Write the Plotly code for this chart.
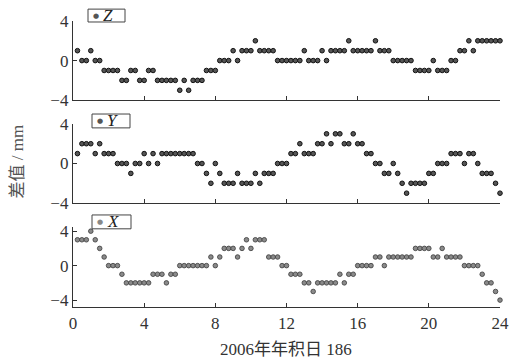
import plotly.graph_objects as go

# 15-minute samples over day-of-year 186, 2006 (hours)
hours = [i * 0.25 for i in range(97)]

z_mm = [None, 1, 0, 0, 1, 0, 0, -1, -1, -1,
        -1, -2, -2, -1, -1, -2, -2, -1, -1, -2,
        -2, -2, -2, -2, -3, -2, -3, -2, -2, -2,
        -1, -1, -1, 0, 0, 0, 1, 0, 1, 1,
        1, 2, 1, 1, 1, 1, 0, 0, 0, 0,
        0, 0, 1, 0, 0, 0, 1, 0, 1, 1,
        1, 1, 2, 1, 1, 1, 1, 1, 2, 1,
        1, 1, 0, 0, 0, 0, 0, -1, -1, -1,
        -1, 0, -1, -1, -1, 0, 0, 1, 1, 2,
        1, 2, 2, 2, 2, 2, 2]

y_mm = [None, 1, 2, 2, 2, 1, 2, 1, 1, 1,
        0, 0, 0, -1, 0, 0, 1, 0, 1, 0,
        1, 1, 1, 1, 1, 1, 1, 1, 0, 0,
        -1, -2, 0, -1, -2, -2, -2, -1, -2, -2,
        -2, -1, -2, -1, -1, -1, 0, 0, 0, 1,
        1, 2, 1, 1, 1, 2, 2, 3, 2, 3,
        3, 2, 2, 3, 2, 2, 1, 1, 0, 0,
        -1, -1, 0, -1, -2, -3, -2, -2, -2, -2,
        -1, -1, 0, 0, 0, 1, 1, 1, 0, 1,
        1, 0, -1, -1, -1, -2, -3]

x_mm = [None, 3, 3, 3, 4, 3, 2, 1, 0, 0,
        0, -1, -2, -2, -2, -2, -2, -2, -1, -1,
        -1, -2, -1, -1, 0, 0, 0, 0, 0, 0,
        0, 1, 0, 1, 2, 2, 2, 1, 2, 3,
        2, 3, 3, 3, 1, 1, 1, 0, 0, -1,
        -1, -1, -2, -2, -3, -2, -2, -2, -2, -2,
        -1, -2, -1, -1, 0, 0, 0, 0, 1, 1,
        0, 1, 1, 1, 1, 1, 1, 2, 2, 2,
        2, 1, 1, 2, 1, 1, 1, 1, 0, 0,
        0, 0, -1, -2, -2, -3, -4]

series_names = ["Z", "Y", "X"]
x_ticks = [0, 4, 8, 12, 16, 20, 24]
y_ticks = [-4, 0, 4]

W, H = 522, 363
L, R, T, B = 73, 22, 18, 56
PH = H - T - B


def py(p):
    return (H - B - p) / PH


def px(p):
    return (p - L) / (W - L - R)


panels = [  # (top px, bottom px, y range)
    (18, 98, [-4, 4]),
    (122, 202, [-4, 4]),
    (226, 307, [-4.8, 4.5]),
]

fig = go.Figure()
serif = "Liberation Serif, Times New Roman, serif"
axis_col = "#333"

data = [z_mm, y_mm, x_mm]
marker_styles = [
    dict(color="#555", line=dict(color="#111", width=1)),
    dict(color="#555", line=dict(color="#111", width=1)),
    dict(color="#8a8a8a", line=dict(color="#3a3a3a", width=0.8)),
]

for k, (vals, (top, bot, yr)) in enumerate(zip(data, panels)):
    n = "" if k == 0 else str(k + 1)
    fig.add_trace(go.Scatter(
        x=hours, y=vals, mode="markers", name=series_names[k],
        xaxis="x" + n, yaxis="y" + n, showlegend=False,
        marker=dict(symbol="circle", size=4.6, **marker_styles[k]),
        cliponaxis=False,
    ))
    fig.layout["xaxis" + n] = dict(
        domain=[0, 1], range=[0, 24], anchor="y" + n,
        tickvals=x_ticks, ticks="inside", ticklen=4, tickwidth=1,
        tickcolor=axis_col, showline=True, linecolor=axis_col, linewidth=1.3,
        showgrid=False, zeroline=False, showticklabels=(k == 2),
        tickfont=dict(family=serif, size=17, color="#333"),
    )
    fig.layout["yaxis" + n] = dict(
        domain=[py(bot), py(top)], range=yr, anchor="x" + n,
        tickvals=y_ticks, ticktext=["\u22124", "0", "4"], ticks="inside",
        ticklen=4, tickwidth=1, tickcolor=axis_col, showline=True,
        linecolor=axis_col, linewidth=1.3, showgrid=False, zeroline=False,
        tickfont=dict(family=serif, size=17, color="#333"),
    )

# legend boxes (one per panel)
boxes = [  # left, right, top, bottom px; marker x, letter x
    (88, 125, 6, 19, 96, 108),
    (92, 130, 112, 126, 100, 112),
    (92, 131, 214, 228, 100, 113),
]
for k, (x0, x1, y0, y1, mx, lx) in enumerate(boxes):
    fig.add_shape(type="rect", xref="paper", yref="paper",
                  x0=px(x0), x1=px(x1), y0=py(y1), y1=py(y0),
                  line=dict(color="#444", width=1), fillcolor="white")
    yc = py((y0 + y1) / 2)
    fig.add_annotation(xref="paper", yref="paper", x=px(mx), y=yc,
                       text="\u25CF", showarrow=False,
                       font=dict(family="DejaVu Sans", size=7,
                                 color="#555" if k < 2 else "#888"),
                       xanchor="center", yanchor="middle")
    fig.add_annotation(xref="paper", yref="paper", x=px(lx), y=yc,
                       text="<i>" + series_names[k] + "</i>", showarrow=False,
                       font=dict(family=serif, size=17, color="#222"),
                       xanchor="center", yanchor="middle")

fig.add_annotation(xref="paper", yref="paper", x=px(286), y=py(350),
                   text="2006年年积日 186", showarrow=False,
                   font=dict(family="Liberation Serif, Noto Sans CJK SC", size=17,
                             color="#333"),
                   xanchor="center", yanchor="middle")
fig.add_annotation(xref="paper", yref="paper", x=px(18), y=py(160),
                   text="差值 / mm", showarrow=False, textangle=-90,
                   font=dict(family="Liberation Serif, Noto Sans CJK SC", size=17,
                             color="#555"),
                   xanchor="center", yanchor="middle")

fig.update_layout(
    width=W, height=H, margin=dict(l=L, r=R, t=T, b=B),
    paper_bgcolor="white", plot_bgcolor="white", showlegend=False,
)

fig.write_html("out.html")
